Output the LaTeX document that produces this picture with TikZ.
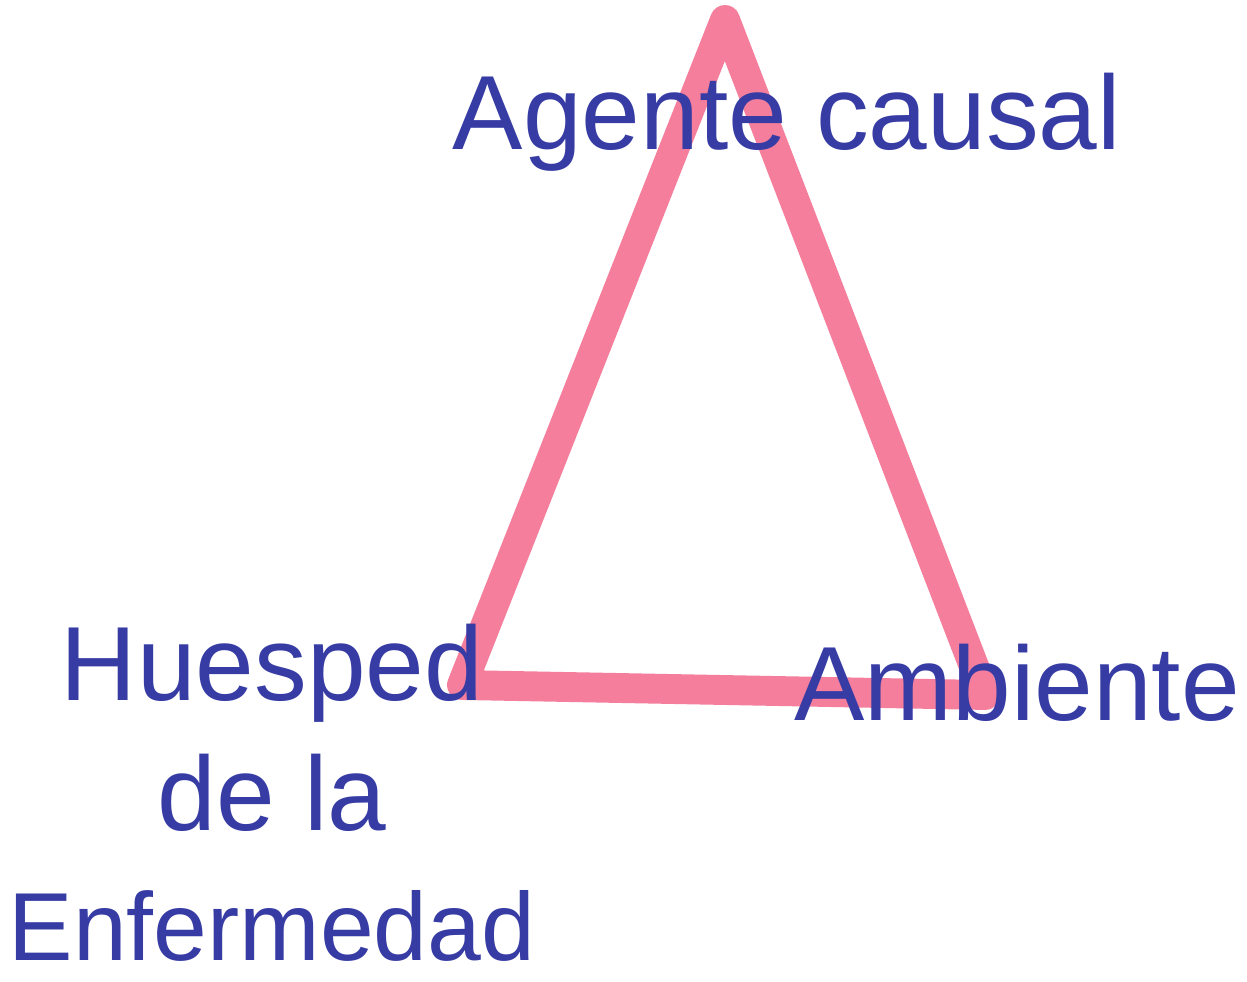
\documentclass[tikz,border=0pt]{standalone}
\usepackage{fontspec}
\setmainfont{Liberation Sans}
\usetikzlibrary{positioning}
\definecolor{inkblue}{RGB}{55,60,165}
\definecolor{markerpink}{RGB}{244,126,156}
\tikzset{
  label text/.style={text=inkblue, inner sep=0pt, font=\fontsize{30}{37}\selectfont},
  edge line/.style={draw=markerpink, line width=8.5pt, line join=round, line cap=round}
}
\begin{document}
\begin{tikzpicture}
  \useasboundingbox[fill=white] (0,0) rectangle (12.47,9.81);
  % triangle corners
  \coordinate (top) at (7.25,9.61);
  \coordinate (left) at (4.62,2.96);
  \coordinate (right) at (9.85,2.86);
  \draw[edge line] (top) -- (right) -- (left) -- cycle;
  % labels
  \node[label text, anchor=base] (agent) at (7.87,8.31) {Agente causal};
  \node[label text, anchor=north, align=center] (host) at (2.72,3.58)
    {Huesped\\de la\\{\fontsize{27.5}{37}\selectfont Enfermedad}};
  \node[label text, anchor=base] (env) at (10.17,2.61) {Ambiente};
\end{tikzpicture}
\end{document}
